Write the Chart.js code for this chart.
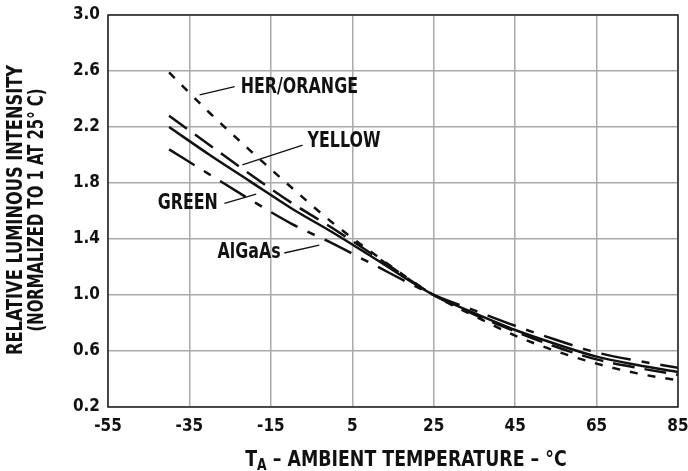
<!DOCTYPE html>
<html>
<head>
<meta charset="utf-8">
<script src="https://cdn.jsdelivr.net/npm/chart.js@4/dist/chart.umd.min.js"></script>
<style>
  html, body { margin: 0; padding: 0; background: #fff; }
  #wrap { width: 688px; height: 471px; }
</style>
</head>
<body>
<div id="wrap"><canvas id="ledChart" width="688" height="471"></canvas></div>
<script>
// temperatures (°C) and relative luminous intensity
const temps  = [-40, -30, -20, -10, 0, 10, 25, 35, 45, 55, 65, 75, 85];
const herOrange = [2.59, 2.30, 2.03, 1.77, 1.52, 1.30, 1.00, 0.85, 0.71, 0.60, 0.51, 0.44, 0.39];
const yellow    = [2.28, 2.07, 1.86, 1.66, 1.48, 1.29, 1.00, 0.86, 0.74, 0.63, 0.54, 0.48, 0.43];
const green     = [2.20, 2.00, 1.81, 1.62, 1.45, 1.27, 1.00, 0.87, 0.75, 0.65, 0.56, 0.50, 0.45];
const algaas    = [2.04, 1.86, 1.68, 1.51, 1.37, 1.22, 1.00, 0.89, 0.78, 0.68, 0.59, 0.53, 0.48];

const xTicks = [-55, -35, -15, 5, 25, 45, 65, 85];
const yTicks = [0.2, 0.6, 1.0, 1.4, 1.8, 2.2, 2.6, 3.0];

const xTitle = ['T', 'A', ' – AMBIENT TEMPERATURE – °C'];
const yTitle = ['RELATIVE LUMINOUS INTENSITY', '(NORMALIZED TO 1 AT 25° C)'];

// curve labels: text anchor and leader line, in data units
const curveLabels = [
  { text: 'HER/ORANGE', at: [-22.4, 2.48], line: [[-32.5, 2.43], [-23.9, 2.488]] },
  { text: 'YELLOW',     at: [-6.0, 2.093], line: [[-22.0, 1.929], [-7.2, 2.071]] },
  { text: 'GREEN',      at: [-42.8, 1.65], line: [[-26.4, 1.654], [-18.6, 1.721]] },
  { text: 'AlGaAs',     at: [-28.1, 1.30], line: [[-11.7, 1.30], [-3.1, 1.357]] }
];

const tickFont = { family: '"DejaVu Sans Condensed", "DejaVu Sans"', weight: 'bold', size: 17 };
const labelFont = 'bold 21px "DejaVu Sans Condensed", "DejaVu Sans", sans-serif';
const subFont = 'bold 15px "DejaVu Sans Condensed", "DejaVu Sans", sans-serif';
const squeeze = 0.84; // reference lettering is narrower than DejaVu Condensed

function pts(vals) {
  return temps.map((t, i) => ({ x: t, y: vals[i] }));
}

// draw text squeezed horizontally, anchored at its left edge
function narrowText(ctx, text, x, y, k) {
  const w = ctx.measureText(text).width;
  ctx.fillText(text, x, y, w * k);
  return w * k;
}

const annotate = {
  id: 'annotate',
  afterDraw(chart) {
    const ctx = chart.ctx;
    const xs = chart.scales.x, ys = chart.scales.y;
    const a = chart.chartArea;
    ctx.save();
    // frame
    ctx.strokeStyle = '#222';
    ctx.lineWidth = 1.5;
    ctx.strokeRect(a.left, a.top, a.right - a.left, a.bottom - a.top);

    ctx.fillStyle = '#111';
    ctx.strokeStyle = '#111';
    ctx.font = labelFont;
    ctx.textBaseline = 'middle';
    ctx.textAlign = 'left';
    curveLabels.forEach(l => {
      narrowText(ctx, l.text, xs.getPixelForValue(l.at[0]), ys.getPixelForValue(l.at[1]), squeeze);
      ctx.lineWidth = 1.3;
      ctx.beginPath();
      ctx.moveTo(xs.getPixelForValue(l.line[0][0]), ys.getPixelForValue(l.line[0][1]));
      ctx.lineTo(xs.getPixelForValue(l.line[1][0]), ys.getPixelForValue(l.line[1][1]));
      ctx.stroke();
    });

    // x title with subscript, squeezed to the reference width
    ctx.textBaseline = 'alphabetic';
    const base = 466;
    const kx = 0.92;
    ctx.font = labelFont;
    const w0 = ctx.measureText(xTitle[0]).width * kx;
    const w2 = ctx.measureText(xTitle[2]).width * kx;
    ctx.font = subFont;
    const w1 = ctx.measureText(xTitle[1]).width * kx;
    let x = 406 - (w0 + w1 + w2) / 2;
    ctx.font = labelFont;
    x += narrowText(ctx, xTitle[0], x, base, kx);
    ctx.font = subFont;
    x += narrowText(ctx, xTitle[1], x, base + 4, kx);
    ctx.font = labelFont;
    narrowText(ctx, xTitle[2], x, base, kx);

    // y title, two rotated lines
    ctx.font = labelFont;
    ctx.textAlign = 'center';
    ctx.textBaseline = 'middle';
    [[17, yTitle[0], 290], [38, yTitle[1], 243]].forEach(([cx, t, len]) => {
      ctx.save();
      ctx.translate(cx, 210);
      ctx.rotate(-Math.PI / 2);
      ctx.fillText(t, 0, 0, len);
      ctx.restore();
    });
    ctx.restore();
  }
};

const common = { borderColor: '#111', borderWidth: 2.5, pointRadius: 0, fill: false, cubicInterpolationMode: 'monotone' };

new Chart(document.getElementById('ledChart'), {
  type: 'line',
  data: {
    datasets: [
      { ...common, label: 'HER/ORANGE', data: pts(herOrange), borderDash: [8, 10] },
      { ...common, label: 'YELLOW', data: pts(yellow), borderDash: [22, 10] },
      { ...common, label: 'GREEN', data: pts(green) },
      { ...common, label: 'AlGaAs', data: pts(algaas), borderDash: [30, 11, 8, 11] }
    ]
  },
  options: {
    responsive: false,
    animation: false,
    layout: { padding: { top: 15, right: 10, left: 0, bottom: 0 } },
    plugins: { legend: { display: false }, tooltip: { enabled: false } },
    scales: {
      x: {
        type: 'linear', min: -55, max: 85,
        afterBuildTicks: s => { s.ticks = xTicks.map(v => ({ value: v })); },
        afterFit: s => { s.height = 64; s.paddingLeft = 0; s.paddingRight = 0; },
        grid: { color: '#aaa', lineWidth: 1.5, drawTicks: false },
        border: { display: false },
        ticks: { color: '#111', font: tickFont, padding: 9, maxRotation: 0, autoSkip: false }
      },
      y: {
        type: 'linear', min: 0.2, max: 3.0,
        afterBuildTicks: s => { s.ticks = yTicks.map(v => ({ value: v })); },
        afterFit: s => { s.width = 108; s.paddingTop = 0; s.paddingBottom = 0; },
        grid: { color: '#aaa', lineWidth: 1.5, drawTicks: false },
        border: { display: false },
        ticks: { color: '#111', font: tickFont, padding: 8, callback: v => v.toFixed(1) }
      }
    }
  },
  plugins: [annotate]
});
</script>
</body>
</html>
